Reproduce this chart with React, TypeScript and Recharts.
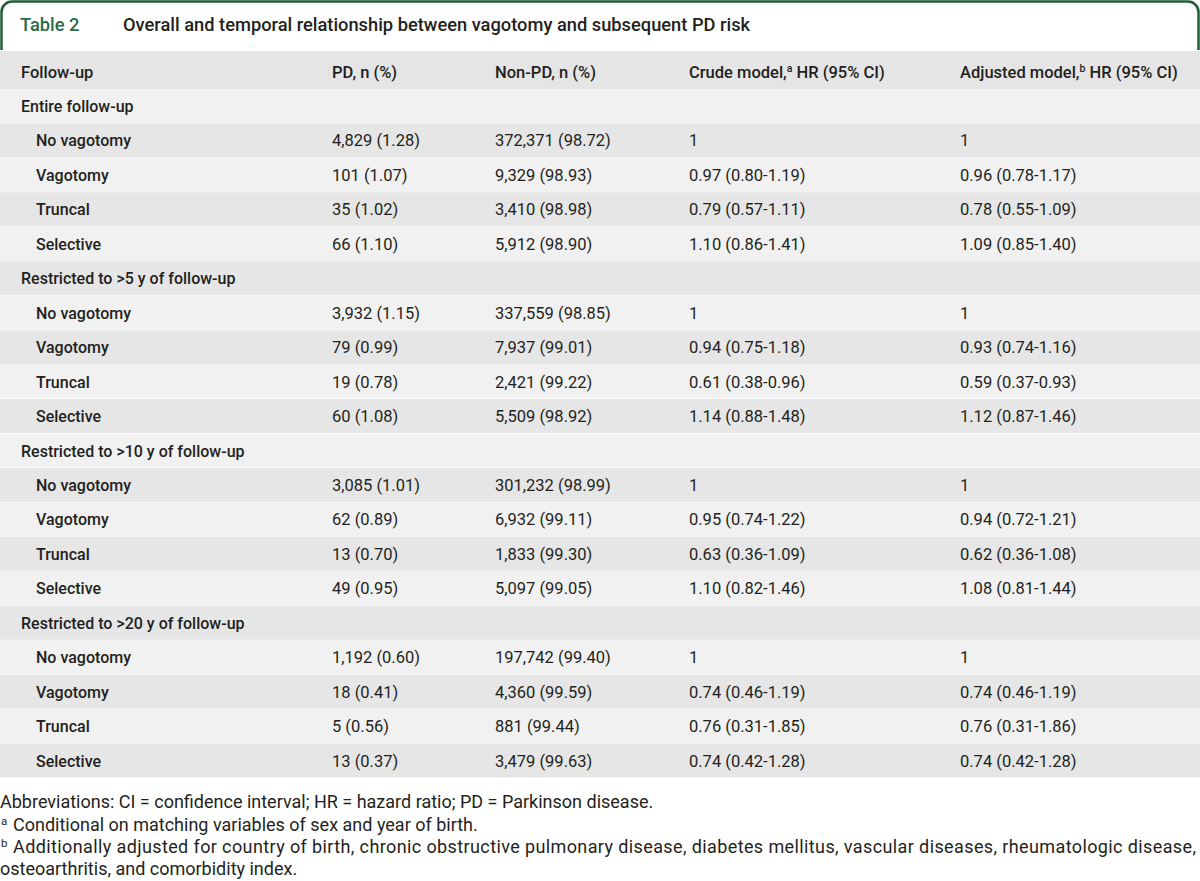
import { BarChart, Bar, XAxis, YAxis, Cell, LabelList } from 'recharts';

const sections = [
  'Entire follow-up',
  'Restricted to >5 y of follow-up',
  'Restricted to >10 y of follow-up',
  'Restricted to >20 y of follow-up',
];
const groups = ['No vagotomy', 'Vagotomy', 'Truncal', 'Selective'];

const pdCounts = [
  ['4,829 (1.28)', '101 (1.07)', '35 (1.02)', '66 (1.10)'],
  ['3,932 (1.15)', '79 (0.99)', '19 (0.78)', '60 (1.08)'],
  ['3,085 (1.01)', '62 (0.89)', '13 (0.70)', '49 (0.95)'],
  ['1,192 (0.60)', '18 (0.41)', '5 (0.56)', '13 (0.37)'],
];
const nonPdCounts = [
  ['372,371 (98.72)', '9,329 (98.93)', '3,410 (98.98)', '5,912 (98.90)'],
  ['337,559 (98.85)', '7,937 (99.01)', '2,421 (99.22)', '5,509 (98.92)'],
  ['301,232 (98.99)', '6,932 (99.11)', '1,833 (99.30)', '5,097 (99.05)'],
  ['197,742 (99.40)', '4,360 (99.59)', '881 (99.44)', '3,479 (99.63)'],
];
const crudeHr = [
  ['1', '0.97 (0.80-1.19)', '0.79 (0.57-1.11)', '1.10 (0.86-1.41)'],
  ['1', '0.94 (0.75-1.18)', '0.61 (0.38-0.96)', '1.14 (0.88-1.48)'],
  ['1', '0.95 (0.74-1.22)', '0.63 (0.36-1.09)', '1.10 (0.82-1.46)'],
  ['1', '0.74 (0.46-1.19)', '0.76 (0.31-1.85)', '0.74 (0.42-1.28)'],
];
const adjustedHr = [
  ['1', '0.96 (0.78-1.17)', '0.78 (0.55-1.09)', '1.09 (0.85-1.40)'],
  ['1', '0.93 (0.74-1.16)', '0.59 (0.37-0.93)', '1.12 (0.87-1.46)'],
  ['1', '0.94 (0.72-1.21)', '0.62 (0.36-1.08)', '1.08 (0.81-1.44)'],
  ['1', '0.74 (0.46-1.19)', '0.76 (0.31-1.86)', '0.74 (0.42-1.28)'],
];

const INK = '#231f20';
const GREEN = '#1f5e3b';
const FONT = 'Roboto, "Liberation Sans", sans-serif';

// one entry per table row, band = 1 so every bar spans the full width
const rows: any[] = [];
sections.forEach((s, si) => {
  rows.push({ key: `s${si}`, label: s, indent: false, pd: '', nonPd: '', crude: '', adjusted: '', band: 1 });
  groups.forEach((g, gi) => {
    rows.push({
      key: `s${si}g${gi}`,
      label: g,
      indent: true,
      pd: pdCounts[si][gi],
      nonPd: nonPdCounts[si][gi],
      crude: crudeHr[si][gi],
      adjusted: adjustedHr[si][gi],
      band: 1,
    });
  });
});

const cell = (colX: number, weight: number, size: number, isLabel = false) => (props: any) => {
  const vb = props.viewBox || props;
  const y = vb.y + vb.height / 2 + 6;
  const row = rows[props.index];
  const x = isLabel ? (row.indent ? 36 : 21) : colX;
  return (
    <text x={x} y={y} fill={INK} fontSize={size} fontWeight={weight} fontFamily={FONT}>
      {props.value}
    </text>
  );
};

function Frame() {
  return (
    <svg width={1200} height={881} style={{ position: 'absolute', left: 0, top: 0 }}>
      <path
        d="M1.5 50 L1.5 12 A10.5 10.5 0 0 1 12 1.5 L1188 1.5 A10.5 10.5 0 0 1 1198.5 12 L1198.5 50"
        fill="none"
        stroke={GREEN}
        strokeWidth={2.5}
      />
      <text x={20} y={31} fill="#2b6b48" fontSize={18.3} fontWeight={500} fontFamily={FONT}>
        Table 2
      </text>
      <text x={123} y={31} fill={INK} fontSize={18.3} fontWeight={500} fontFamily={FONT}>
        Overall and temporal relationship between vagotomy and subsequent PD risk
      </text>

      <rect x={0} y={51} width={1200} height={38} fill="#e5e5e5" />
      <g fill={INK} fontSize={16.5} fontWeight={500} fontFamily={FONT}>
        <text x={21} y={78}>Follow-up</text>
        <text x={332} y={78}>PD, n (%)</text>
        <text x={495} y={78}>Non-PD, n (%)</text>
        <text x={689} y={78}>
          Crude model,<tspan fontSize={10.5} dy={-6}>a</tspan>
          <tspan dy={6}> HR (95% CI)</tspan>
        </text>
        <text x={960} y={78}>
          Adjusted model,<tspan fontSize={10.5} dy={-6}>b</tspan>
          <tspan dy={6}> HR (95% CI)</tspan>
        </text>
      </g>

      <g fill={INK} fontSize={18} fontFamily={FONT}>
        <text x={0} y={808}>
          Abbreviations: CI = confidence interval; HR = hazard ratio; PD = Parkinson disease.
        </text>
        <text x={1} y={825} fontSize={11.5}>a</text>
        <text x={13} y={831}>Conditional on matching variables of sex and year of birth.</text>
        <text x={1} y={847} fontSize={11.5}>b</text>
        <text x={13} y={853} textLength={1183} lengthAdjust="spacing">
          Additionally adjusted for country of birth, chronic obstructive pulmonary disease, diabetes mellitus, vascular diseases, rheumatologic disease,
        </text>
        <text x={0} y={875}>osteoarthritis, and comorbidity index.</text>
      </g>
    </svg>
  );
}

export default function App() {
  return (
    <div style={{ position: 'absolute', left: 0, top: 0, width: 1200, height: 881, background: '#fff' }}>
      <Frame />
      <div style={{ position: 'absolute', left: 0, top: 89 }}>
        <BarChart
          width={1200}
          height={689}
          data={rows}
          layout="vertical"
          margin={{ top: 0, right: 0, bottom: 0, left: 0 }}
          barCategoryGap={0}
        >
          <XAxis type="number" domain={[0, 1]} hide />
          <YAxis type="category" dataKey="key" hide />
          <Bar dataKey="band" isAnimationActive={false}>
            {rows.map((r, i) => (
              <Cell key={r.key} fill={i % 2 === 0 ? '#f1f1f1' : '#e6e6e6'} />
            ))}
            <LabelList dataKey="label" content={cell(0, 500, 16, true)} />
            <LabelList dataKey="pd" content={cell(332, 400, 16.5)} />
            <LabelList dataKey="nonPd" content={cell(495, 400, 16.5)} />
            <LabelList dataKey="crude" content={cell(689, 400, 16.5)} />
            <LabelList dataKey="adjusted" content={cell(960, 400, 16.5)} />
          </Bar>
        </BarChart>
      </div>
    </div>
  );
}
